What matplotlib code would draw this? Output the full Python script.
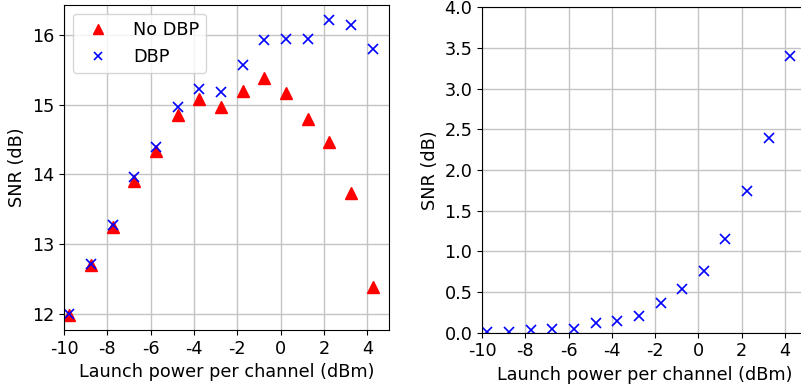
import matplotlib
matplotlib.use("Agg")
import matplotlib.pyplot as plt

power = [-9.75, -8.75, -7.75, -6.75, -5.75, -4.75, -3.75, -2.75, -1.75, -0.75,
         0.25, 1.25, 2.25, 3.25, 4.25]
snr_no_dbp = [11.99, 12.70, 13.24, 13.90, 14.33, 14.85, 15.08, 14.97, 15.20, 15.38,
              15.17, 14.79, 14.47, 13.74, 12.39]
snr_dbp = [12.00, 12.71, 13.27, 13.97, 14.40, 14.97, 15.22, 15.18, 15.57, 15.93,
           15.94, 15.94, 16.22, 16.14, 15.80]
snr_gain = [0.01, 0.01, 0.03, 0.05, 0.04, 0.12, 0.14, 0.21, 0.36, 0.54,
            0.76, 1.15, 1.74, 2.39, 3.40]

xticks = [-10, -8, -6, -4, -2, 0, 2, 4]
xticklabels = ["-10", "-8", "-6", "-4", "-2", "0", "2", "4"]

W, H = 801, 389
fig = plt.figure(figsize=(W / 100, H / 100), dpi=100)

ax1 = fig.add_axes([64 / W, (H - 330) / H, 325 / W, 325 / H])
ax2 = fig.add_axes([482 / W, (H - 332.7) / H, 324.6 / W, 325.4 / H])

fs = 12.7
gridc = "#c4c4c4"

ax1.plot(power, snr_no_dbp, linestyle="none", marker="^", color="r", markersize=8, label="No DBP")
ax1.plot(power, snr_dbp, linestyle="none", marker="x", color="b", markersize=7, markeredgewidth=1.2, label="DBP")
ax1.set_xlim(-10, 5)
ax1.set_ylim(11.77, 16.43)
ax1.set_yticks([12, 13, 14, 15, 16])
ax1.set_xticks(xticks)
ax1.set_xticklabels(xticklabels)
ax1.grid(True, color=gridc, linewidth=1)
ax1.set_axisbelow(True)
ax1.set_xlabel("Launch power per channel (dBm)", fontsize=fs)
ax1.set_ylabel("SNR (dB)", fontsize=fs)
ax1.tick_params(labelsize=fs)
ax1.legend(loc="upper left", fontsize=fs, handlelength=2.0, handletextpad=1.0, markerscale=0.9)

ax2.plot(power, snr_gain, linestyle="none", marker="x", color="b", markersize=7, markeredgewidth=1.2)
ax2.set_xlim(-10, 5)
ax2.set_ylim(0, 4)
ax2.set_yticks([0, 0.5, 1.0, 1.5, 2.0, 2.5, 3.0, 3.5, 4.0])
ax2.set_xticks(xticks)
ax2.set_xticklabels(xticklabels)
ax2.grid(True, color=gridc, linewidth=1)
ax2.set_axisbelow(True)
ax2.set_xlabel("Launch power per channel (dBm)", fontsize=fs)
ax2.set_ylabel("SNR (dB)", fontsize=fs)
ax2.tick_params(labelsize=fs)

fig.savefig("out.png", dpi=100)
